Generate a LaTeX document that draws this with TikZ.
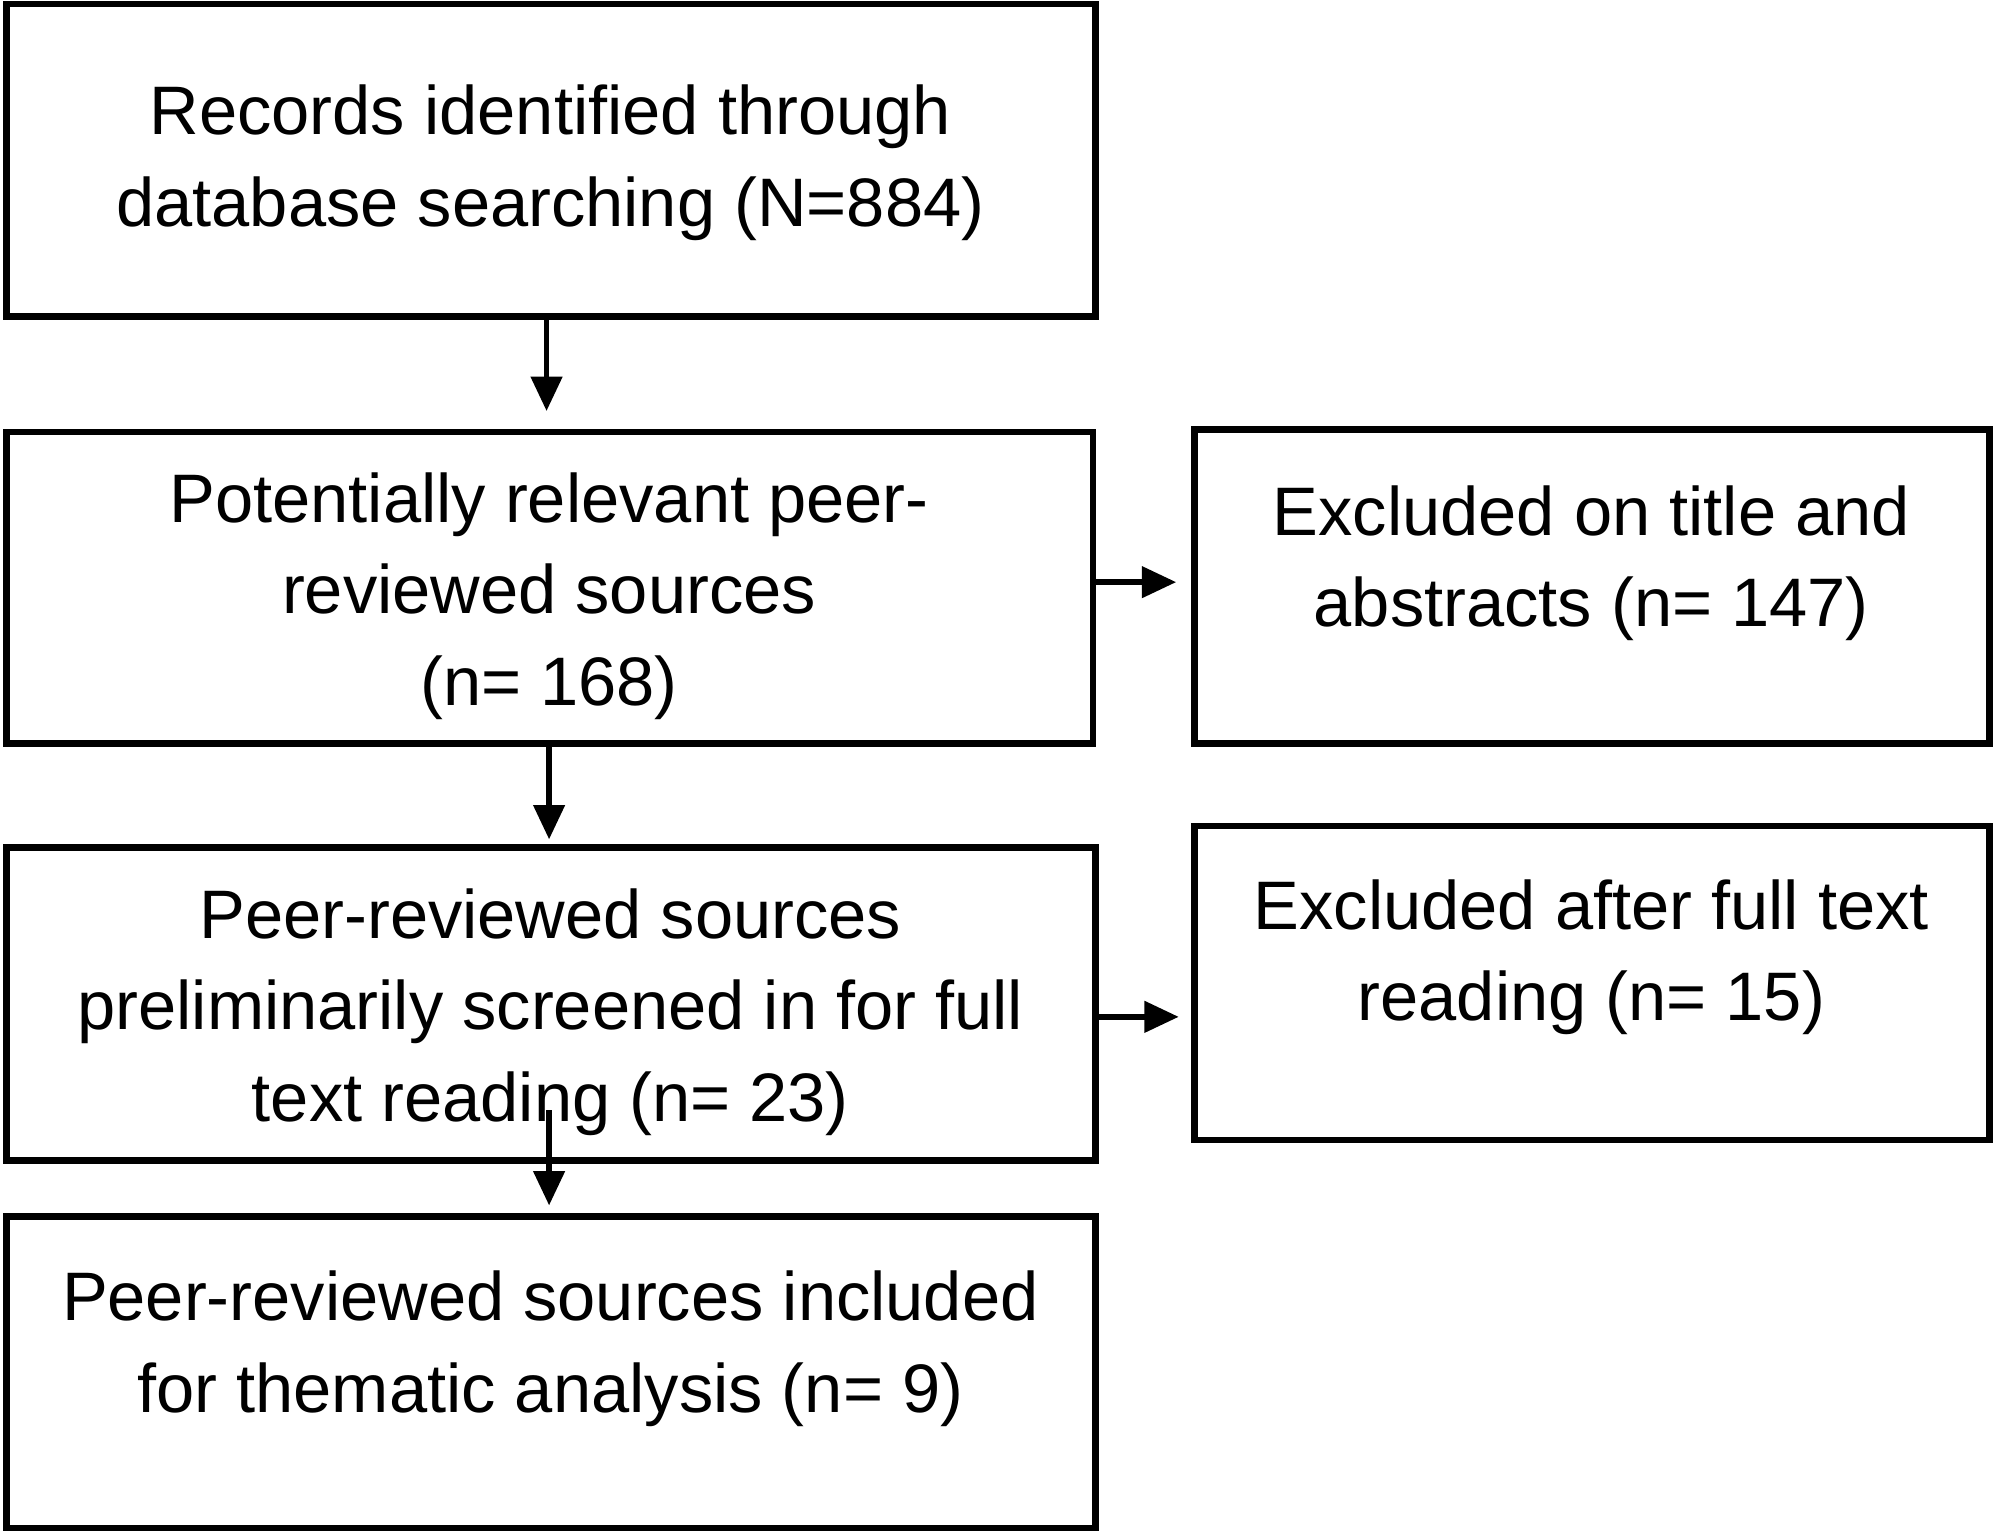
\documentclass[tikz,border=0pt]{standalone}
\usepackage{fontspec}
\setmainfont{Liberation Sans}
\usetikzlibrary{arrows.meta}
\begin{document}
\begin{tikzpicture}[x=0.5pt,y=-0.5pt,
 box/.style={draw,line width=2.6pt,inner sep=0pt},
 txt/.style={align=center,font=\fontsize{27}{36}\selectfont},
 arr/.style={line width=2.3pt,-{Triangle[length=13.5pt,width=12pt]}}]
\useasboundingbox (0,0) rectangle (1568,1205);
\node[box,minimum width=857*0.5pt,minimum height=246*0.5pt] (b1) at (433.5,126) {};
\node[box,minimum width=855*0.5pt,minimum height=245*0.5pt] (b2) at (432.5,462.5) {};
\node[box,minimum width=625*0.5pt,minimum height=247*0.5pt] (b3) at (1252.5,461.5) {};
\node[box,minimum width=857*0.5pt,minimum height=246*0.5pt] (b4) at (433.5,790) {};
\node[box,minimum width=625*0.5pt,minimum height=247*0.5pt] (b5) at (1252.5,773.5) {};
\node[box,minimum width=857*0.5pt,minimum height=245*0.5pt] (b6) at (433.5,1079.5) {};
\node[txt] (t1) at (433,128) {Records identified through\\database searching (N=884)};
\node[txt] (t2) at (432,469) {Potentially relevant peer-\\reviewed sources\\(n= 168)};
\node[txt] (t3) at (1252,443) {Excluded on title and\\abstracts (n= 147)};
\node[txt] (t4) at (433,796) {Peer-reviewed sources\\preliminarily screened in for full\\text reading (n= 23)};
\node[txt] (t5) at (1252,753) {Excluded after full text\\reading (n= 15)};
\node[txt] (t6) at (433,1061) {Peer-reviewed sources included\\for thematic analysis (n= 9)};
\draw[arr,shorten >=7pt] (b1.south -| 430,0) -- (b2.north -| 430,0);
\draw[arr,shorten >=2pt] (b2.south -| 432,0) -- (b4.north -| 432,0);
\draw[arr,shorten >=3pt] ([yshift=21pt]b4.south -| 432,0) -- (b6.north -| 432,0);
\draw[arr,shorten >=6pt] (b2.east |- 0,458) -- (b3.west |- 0,458);
\draw[arr,shorten >=5pt] (b4.east |- 0,800) -- (b5.west |- 0,800);
\end{tikzpicture}
\end{document}
